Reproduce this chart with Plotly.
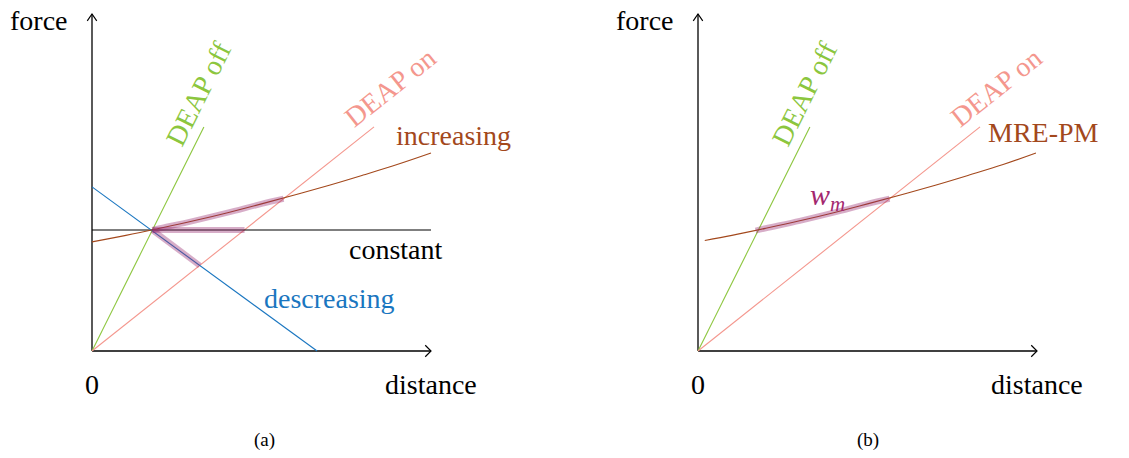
import plotly.graph_objects as go
from plotly.subplots import make_subplots

# lines (data units, origin at the axes corner)
axis_x_end = 10.0
axis_y_end = 9.94

deap_off_x = [0, 3.30]
deap_off_y = [0, 6.61]
deap_on_x = [0, 8.32]
deap_on_y = [0, 6.61]

increasing_x = [0, 1, 2, 3, 4, 5, 6, 7, 8, 9, 10]
increasing_y = [3.22, 3.41, 3.62, 3.84, 4.08, 4.34, 4.61, 4.89, 5.19, 5.50, 5.84]

constant_x = [0, 10]
constant_y = [3.57, 3.57]

decreasing_x = [0, 6.64]
decreasing_y = [4.84, 0]

mre_x = [0.2, 1, 2, 3, 4, 5, 6, 7, 8, 9, 9.97]
mre_y = [3.26, 3.41, 3.62, 3.84, 4.08, 4.34, 4.61, 4.89, 5.19, 5.50, 5.84]

# highlighted working ranges
hl_inc_x = [1.78, 2, 3, 4, 5, 5.65]
hl_inc_y = [3.57, 3.62, 3.84, 4.08, 4.34, 4.49]
hl_const_x = [1.78, 4.50]
hl_const_y = [3.57, 3.57]
hl_dec_x = [1.78, 3.18]
hl_dec_y = [3.57, 2.52]
hl_wm_x = [1.70, 2, 3, 4, 5, 5.65]
hl_wm_y = [3.55, 3.62, 3.84, 4.08, 4.34, 4.49]

GREEN = '#8cc63e'
SALMON = '#f4978e'
BROWN = '#a3481c'
BLUE = '#1a76c0'
PURPLE = '#a3286f'
HL = 'rgba(150,40,110,0.38)'
FONT = 'Liberation Serif'

fig = make_subplots(rows=1, cols=2, horizontal_spacing=0)


def line(x, y, color, width, col, shape='linear'):
    fig.add_trace(go.Scatter(
        x=x, y=y, mode='lines',
        line=dict(color=color, width=width, shape=shape),
        hoverinfo='skip'
    ), row=1, col=col)


def axes(col):
    line([0, axis_x_end], [0, 0], 'black', 1.3, col)
    line([0, 0], [0, axis_y_end], 'black', 1.3, col)
    # open arrow tips
    line([axis_x_end - 0.17, axis_x_end, axis_x_end - 0.17], [0.17, 0, -0.17], 'black', 1.2, col)
    line([-0.14, 0, 0.14], [axis_y_end - 0.2, axis_y_end, axis_y_end - 0.2], 'black', 1.2, col)


# panel (a)
axes(1)
line(deap_off_x, deap_off_y, GREEN, 1.1, 1)
line(deap_on_x, deap_on_y, SALMON, 1.1, 1)
line(constant_x, constant_y, 'black', 1.1, 1)
line(decreasing_x, decreasing_y, BLUE, 1.1, 1)
line(increasing_x, increasing_y, BROWN, 1.1, 1, 'spline')
line(hl_inc_x, hl_inc_y, HL, 6, 1, 'spline')
line(hl_const_x, hl_const_y, HL, 6, 1)
line(hl_dec_x, hl_dec_y, HL, 6, 1)

# panel (b)
axes(2)
line(deap_off_x, deap_off_y, GREEN, 1.1, 2)
line(deap_on_x, deap_on_y, SALMON, 1.1, 2)
line(mre_x, mre_y, BROWN, 1.1, 2, 'spline')
line(hl_wm_x, hl_wm_y, HL, 6, 2, 'spline')


def label(text, x, y, xref, color='black', size=28, angle=0):
    fig.add_annotation(
        text=text, x=x, y=y, xref=xref, yref='y',
        showarrow=False, textangle=angle,
        font=dict(family=FONT, size=size, color=color)
    )


for xr in ['x', 'x2']:
    label('force', -1.56, 9.76, xr)
    label('0', 0, -1.0, xr)
    label('distance', 10.0, -1.0, xr)
    label('DEAP off', 3.14, 7.61, xr, GREEN, angle=-63.4)
    label('DEAP on', 8.8, 7.76, xr, SALMON, angle=-38.5)

label('increasing', 10.65, 6.37, 'x', BROWN)
label('constant', 8.97, 2.98, 'x')
label('descreasing', 7.02, 1.56, 'x', BLUE)
label('(a)', 5.08, -2.63, 'x', size=19)

label('MRE-PM', 10.18, 6.46, 'x2', BROWN)
label('<i>w<sub>m</sub></i>', 3.83, 4.55, 'x2', PURPLE, size=30)
label('(b)', 5.02, -2.63, 'x2', size=19)

# the page puts the figure 8px in from the top-left corner
fig.update_xaxes(visible=False, showgrid=False, zeroline=False)
fig.update_yaxes(visible=False, showgrid=False, zeroline=False, range=[-3.392, 10.118])
fig.update_xaxes(range=[-2.478, 14.174], row=1, col=1)
fig.update_xaxes(range=[-3.702, 12.95], row=1, col=2)

fig.update_layout(
    width=1129, height=458,
    margin=dict(l=0, r=0, t=0, b=0),
    showlegend=False,
    plot_bgcolor='white',
    paper_bgcolor='white'
)

fig.write_html("out.html")
